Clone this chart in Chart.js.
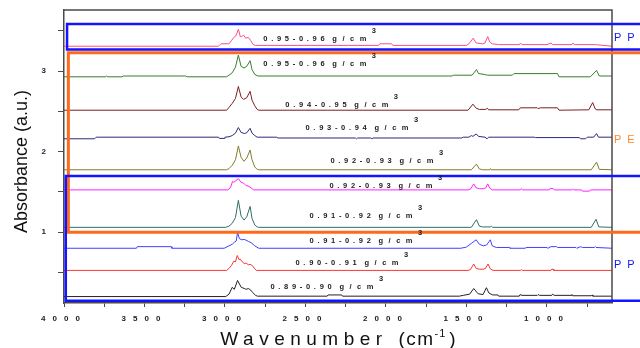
<!DOCTYPE html>
<html>
<head>
<meta charset="utf-8">
<title>FTIR spectra</title>
<script src="https://cdn.jsdelivr.net/npm/chart.js@4.4.1/dist/chart.umd.min.js"></script>
<style>
  html, body { margin: 0; padding: 0; background: #fff; }
  #chart { display: block; }
</style>
</head>
<body>
<canvas id="chart" width="640" height="348"></canvas>
<script>
// axis ticks
const xTickValues = [4000, 3750, 3500, 3250, 3000, 2750, 2500, 2250, 2000, 1750, 1500, 1250, 1000, 750];
const xTickLabels = ["4000", "", "3500", "", "3000", "", "2500", "", "2000", "", "1500", "", "1000", ""];
const yTickValues = [0.5, 1, 1.5, 2, 2.5, 3, 3.5];
const yTickLabels = ["", "1", "", "2", "", "3", ""];

// sample densities (top to bottom) and unit
const sampleNames = ["0.95-0.96", "0.95-0.96", "0.94-0.95", "0.93-0.94", "0.92-0.93",
                     "0.92-0.93", "0.91-0.92", "0.91-0.92", "0.90-0.91", "0.89-0.90"];
const unitText = "g/cm";
const seriesColors = ["#ff4d80", "#3a7d2e", "#7a2020", "#2b2b7a", "#7f7d2a",
                      "#ff22ff", "#2f6e68", "#4040ff", "#ff3333", "#222222"];

// spectra: [wavenumber, absorbance]
const ppTop = [[4000,3.31],[3040,3.31],[3025,3.34],[2975,3.34],[2960,3.38],[2945,3.42],[2932,3.44],[2917,3.52],[2905,3.43],[2895,3.43],[2885,3.45],[2872,3.41],[2855,3.42],[2840,3.38],[2825,3.33],[2812,3.32],[2045,3.32],[2038,3.34],[1965,3.34],[1958,3.32],[1500,3.32],[1485,3.34],[1458,3.41],[1440,3.35],[1400,3.34],[1385,3.35],[1368,3.43],[1355,3.36],[1340,3.34],[1300,3.33],[1170,3.33],[1165,3.35],[1155,3.33],[1000,3.33],[975,3.35],[965,3.33],[845,3.33],[838,3.35],[830,3.33],[700,3.33],[596,3.31]];
const pe095 = [[4000,2.93],[3740,2.93],[3735,2.94],[3728,2.93],[3640,2.93],[3630,2.94],[3245,2.94],[3235,2.93],[2990,2.93],[2975,2.95],[2955,2.98],[2935,3.05],[2917,3.20],[2900,3.06],[2882,3.04],[2865,3.06],[2844,3.13],[2832,3.02],[2815,2.96],[2795,2.94],[1590,2.94],[1580,2.95],[1465,2.95],[1438,3.02],[1425,2.97],[1390,2.96],[1370,2.95],[1215,2.95],[1205,2.97],[935,2.97],[925,2.93],[730,2.93],[692,3.01],[675,2.94],[596,2.94]];
const pe094 = [[4000,2.515],[2990,2.515],[2975,2.55],[2955,2.60],[2935,2.66],[2917,2.81],[2900,2.68],[2885,2.65],[2865,2.67],[2844,2.75],[2832,2.64],[2815,2.57],[2800,2.525],[2790,2.515],[1490,2.515],[1460,2.59],[1440,2.54],[1420,2.525],[1380,2.525],[1370,2.54],[1362,2.52],[1175,2.52],[1165,2.545],[1060,2.545],[1055,2.535],[1040,2.545],[935,2.545],[925,2.515],[740,2.52],[716,2.61],[700,2.53],[690,2.52],[596,2.52]];
const pe093 = [[4000,2.16],[3810,2.16],[3800,2.18],[3040,2.18],[3035,2.165],[3005,2.165],[3000,2.18],[2975,2.185],[2955,2.20],[2935,2.23],[2917,2.30],[2900,2.24],[2880,2.225],[2865,2.235],[2844,2.29],[2832,2.23],[2815,2.20],[2800,2.18],[2680,2.18],[2670,2.17],[2190,2.17],[2183,2.16],[2176,2.17],[2095,2.17],[2088,2.16],[2080,2.17],[1530,2.17],[1520,2.18],[1485,2.18],[1470,2.20],[1460,2.19],[1440,2.22],[1425,2.19],[1385,2.18],[1372,2.16],[1362,2.18],[1080,2.18],[1070,2.175],[800,2.175],[790,2.16],[760,2.16],[750,2.18],[710,2.18],[692,2.225],[680,2.18],[596,2.18]];
const pe092 = [[4000,1.775],[2990,1.775],[2975,1.79],[2955,1.83],[2935,1.90],[2917,2.07],[2900,1.93],[2882,1.88],[2865,1.92],[2844,2.02],[2832,1.90],[2815,1.81],[2800,1.78],[2790,1.775],[1470,1.775],[1438,1.845],[1420,1.785],[1400,1.775],[1356,1.775],[1351,1.79],[1346,1.775],[725,1.775],[692,1.87],[675,1.78],[596,1.775]];
const pp092 = [[4000,1.525],[2980,1.525],[2965,1.56],[2953,1.63],[2945,1.62],[2932,1.64],[2917,1.665],[2900,1.62],[2885,1.61],[2870,1.58],[2852,1.57],[2838,1.55],[2822,1.525],[1490,1.525],[1475,1.535],[1455,1.60],[1440,1.55],[1420,1.54],[1395,1.54],[1380,1.55],[1368,1.60],[1355,1.545],[1340,1.525],[1165,1.525],[1160,1.54],[1152,1.525],[985,1.525],[980,1.545],[960,1.54],[955,1.525],[845,1.525],[840,1.535],[835,1.525],[785,1.525],[780,1.51],[735,1.51],[730,1.525],[596,1.525]];
const pe091 = [[4000,1.06],[2995,1.06],[2975,1.075],[2955,1.11],[2935,1.18],[2917,1.395],[2900,1.20],[2882,1.15],[2865,1.19],[2844,1.32],[2832,1.17],[2815,1.09],[2800,1.065],[2790,1.06],[1470,1.06],[1438,1.155],[1420,1.075],[1400,1.065],[1352,1.065],[1345,1.075],[1338,1.06],[725,1.06],[695,1.16],[678,1.065],[596,1.06]];
const pp091 = [[4000,0.80],[3550,0.80],[3545,0.82],[3335,0.82],[3330,0.80],[3005,0.80],[2975,0.83],[2955,0.85],[2942,0.875],[2930,0.89],[2922,1.0],[2911,0.92],[2895,0.905],[2880,0.91],[2869,0.90],[2855,0.885],[2838,0.87],[2815,0.83],[2790,0.80],[1535,0.80],[1500,0.815],[1470,0.86],[1440,0.905],[1420,0.85],[1395,0.83],[1375,0.84],[1352,0.905],[1340,0.83],[1315,0.81],[1235,0.81],[1230,0.80],[1135,0.80],[1130,0.81],[1000,0.81],[995,0.80],[975,0.82],[940,0.82],[935,0.81],[820,0.81],[815,0.80],[790,0.82],[780,0.81],[705,0.81],[700,0.82],[695,0.81],[596,0.80]];
const pp090 = [[4000,0.525],[2990,0.525],[2975,0.55],[2960,0.585],[2945,0.64],[2935,0.63],[2924,0.71],[2913,0.66],[2905,0.665],[2890,0.625],[2880,0.61],[2868,0.615],[2855,0.595],[2843,0.60],[2830,0.585],[2815,0.545],[2805,0.525],[1490,0.525],[1475,0.535],[1455,0.605],[1440,0.55],[1418,0.54],[1395,0.54],[1382,0.55],[1366,0.605],[1352,0.545],[1335,0.525],[1165,0.525],[1160,0.535],[1152,0.525],[975,0.525],[971,0.54],[962,0.54],[958,0.525],[596,0.525]];
const pp089 = [[4000,0.20],[2995,0.20],[2975,0.23],[2955,0.315],[2942,0.29],[2922,0.40],[2899,0.315],[2880,0.30],[2868,0.29],[2855,0.30],[2840,0.28],[2828,0.25],[2810,0.215],[2799,0.205],[2365,0.205],[2360,0.22],[2275,0.22],[2270,0.205],[1545,0.205],[1520,0.215],[1480,0.23],[1455,0.30],[1428,0.235],[1397,0.225],[1376,0.31],[1361,0.245],[1337,0.22],[1305,0.22],[1300,0.205],[1172,0.205],[1167,0.225],[1155,0.215],[1060,0.215],[1055,0.225],[1045,0.215],[970,0.215],[965,0.23],[955,0.215],[850,0.215],[845,0.225],[840,0.21],[725,0.21],[720,0.22],[715,0.205],[596,0.205]];

const spectra = [ppTop, pe095, pe094, pe093, pe092, pp092, pe091, pp091, pp090, pp089];

// where each density label sits, in axis units
const labelAt = [[2762,3.40],[2762,3.09],[2625,2.58],[2500,2.29],[2345,1.89],[2351,1.58],[2475,1.20],[2475,0.89],[2562,0.62],[2718,0.32]];

// PP / PE group frames
const groupNames = ["PP", "PE", "PP"];
const groupColors = ["#1414ff", "#ff6a1a", "#1414ff"];
const groupBoxes = [
  { left: 3981, top: 3.587, bottom: 3.268, width: 2.5 },
  { left: 3973, top: 3.229, bottom: 1.0, width: 3 },
  { left: 3989, top: 1.697, bottom: 0.149, width: 2.5 }
];
const groupLabelAt = [3.41, 2.15, 0.59];

const overlay = {
  id: "overlay",
  beforeDraw(chart) {
    chart.ctx.letterSpacing = "7px";
  },
  beforeDatasetsDraw(chart) {
    chart.ctx.letterSpacing = "0px";
  },
  afterDatasetsDraw(chart) {
    const { ctx, chartArea: a, scales: { x, y } } = chart;
    ctx.save();

    // frame top/right
    ctx.strokeStyle = "#4a4a4a";
    ctx.lineWidth = 1.5;
    ctx.beginPath();
    ctx.moveTo(a.left, a.top);
    ctx.lineTo(a.right, a.top);
    ctx.lineTo(a.right, a.bottom);
    ctx.stroke();

    // group boxes (open to the right edge)
    [1, 0, 2].forEach(i => {
      const b = groupBoxes[i];
      const l = x.getPixelForValue(b.left);
      const t = y.getPixelForValue(b.top);
      const btm = y.getPixelForValue(b.bottom);
      ctx.strokeStyle = groupColors[i];
      ctx.lineWidth = b.width;
      ctx.beginPath();
      ctx.moveTo(chart.width + 5, t);
      ctx.lineTo(l, t);
      ctx.lineTo(l, btm);
      ctx.lineTo(chart.width + 5, btm);
      ctx.stroke();
    });

    // group labels
    ctx.font = '11px "Liberation Sans", Arial, sans-serif';
    ctx.letterSpacing = "6px";
    ctx.textAlign = "left";
    ctx.textBaseline = "middle";
    groupNames.forEach((g, i) => {
      ctx.fillStyle = groupColors[i] === "#ff6a1a" ? "#ff8a2a" : groupColors[i];
      ctx.fillText(g, a.right + 2, y.getPixelForValue(groupLabelAt[i]));
    });

    // density labels
    ctx.font = 'bold 7.5px "Liberation Sans", Arial, sans-serif';
    ctx.fillStyle = "#1c1c1c";
    sampleNames.forEach((name, i) => {
      const px = x.getPixelForValue(labelAt[i][0]);
      const py = y.getPixelForValue(labelAt[i][1]);
      ctx.letterSpacing = "3.7px";
      ctx.fillText(name, px, py);
      const ux = px + ctx.measureText(name).width + 4;
      ctx.letterSpacing = "5.5px";
      ctx.fillText(unitText, ux, py);
      const w = ctx.measureText(unitText).width;
      ctx.letterSpacing = "0px";
      ctx.fillText("3", ux + w, py - 8);
    });

    // y title
    ctx.fillStyle = "#111";
    ctx.letterSpacing = "0px";
    ctx.font = '18px "Liberation Sans", Arial, sans-serif';
    ctx.textAlign = "center";
    ctx.textBaseline = "alphabetic";
    ctx.save();
    ctx.translate(27, (a.top + a.bottom) / 2 + 5);
    ctx.rotate(-Math.PI / 2);
    ctx.fillText("Absorbance (a.u.)", 0, 0);
    ctx.restore();

    // x title with superscript
    ctx.textAlign = "left";
    const base = a.bottom + 42;
    const big = '19px "Liberation Sans", Arial, sans-serif';
    const small = '11px "Liberation Sans", Arial, sans-serif';
    ctx.font = big; ctx.letterSpacing = "5.5px";
    const w1 = ctx.measureText("Wavenumber ").width;
    ctx.letterSpacing = "1.5px";
    const w2 = ctx.measureText("(cm").width;
    ctx.font = small; ctx.letterSpacing = "1px";
    const w3 = ctx.measureText("-1").width;
    ctx.font = big; ctx.letterSpacing = "0px";
    const w4 = ctx.measureText(")").width;
    let cx = (a.left + a.right) / 2 - (w1 + w2 + w3 + 3 + w4) / 2;
    ctx.font = big; ctx.letterSpacing = "5.5px";
    ctx.fillText("Wavenumber ", cx, base); cx += w1;
    ctx.letterSpacing = "1.5px";
    ctx.fillText("(cm", cx, base); cx += w2;
    ctx.font = small; ctx.letterSpacing = "1px";
    ctx.fillText("-1", cx, base - 8); cx += w3 + 3;
    ctx.font = big; ctx.letterSpacing = "0px";
    ctx.fillText(")", cx, base);

    ctx.restore();
  }
};

const tickFont = { family: "Liberation Sans", size: 8, weight: "bold" };

new Chart(document.getElementById("chart"), {
  type: "line",
  data: {
    datasets: spectra.map((s, i) => ({
      label: sampleNames[i],
      data: s,
      borderColor: seriesColors[i],
      borderWidth: 1,
      pointRadius: 0,
      tension: 0,
      fill: false
    }))
  },
  options: {
    responsive: false,
    animation: false,
    devicePixelRatio: 1,
    layout: { padding: { top: 10, right: 28, left: 0, bottom: 0 } },
    plugins: { legend: { display: false }, tooltip: { enabled: false } },
    scales: {
      x: {
        type: "linear",
        reverse: true,
        min: 596,
        max: 4000,
        afterBuildTicks: scale => { scale.ticks = xTickValues.map(v => ({ value: v })); },
        afterFit: scale => { scale.height = 45; },
        grid: { drawOnChartArea: false, tickLength: 4, tickColor: "#4a4a4a" },
        border: { display: true, color: "#4a4a4a", width: 1.5 },
        ticks: {
          autoSkip: false, maxRotation: 0, minRotation: 0,
          padding: 7, color: "#222", font: tickFont,
          callback: (v, i) => xTickLabels[i]
        }
      },
      y: {
        type: "linear",
        min: 0.12,
        max: 3.76,
        afterBuildTicks: scale => { scale.ticks = yTickValues.map(v => ({ value: v })); },
        afterFit: scale => { scale.width = 64; },
        grid: { drawOnChartArea: false, tickLength: 6, tickColor: "#4a4a4a" },
        border: { display: true, color: "#4a4a4a", width: 1.5 },
        ticks: {
          autoSkip: false, padding: 5, color: "#22223a", font: tickFont,
          callback: (v, i) => yTickLabels[i]
        }
      }
    }
  },
  plugins: [overlay]
});
</script>
</body>
</html>
